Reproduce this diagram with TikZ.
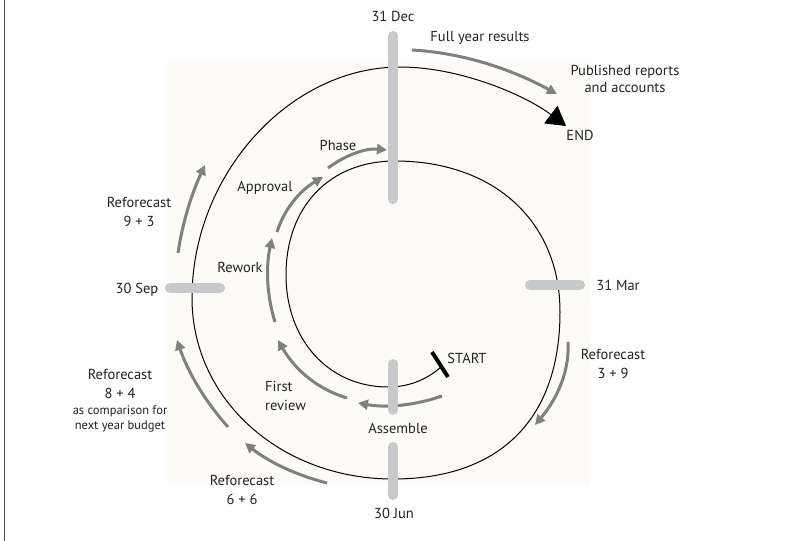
\documentclass[tikz,border=0pt]{standalone}
\usepackage{fontspec}
\setmainfont{PT Sans}
\usetikzlibrary{arrows.meta}
\definecolor{bgc}{RGB}{252,251,247}
\definecolor{arrg}{RGB}{128,128,128}
\definecolor{barg}{RGB}{200,201,203}
\definecolor{txt}{RGB}{34,34,34}
\begin{document}
\begin{tikzpicture}[x=1pt,y=-1pt,
  lbl/.style={text=txt,font=\fontsize{14.5}{19}\selectfont,align=center,inner sep=0pt},
  small/.style={text=txt,font=\fontsize{12.5}{15}\selectfont,align=center,inner sep=0pt},
  garrow/.style={draw=arrg,line width=3pt,-{Triangle[length=10pt,width=10pt]}},
  bar/.style={draw=barg,line width=10pt,line cap=round},
  spiral/.style={draw=black,line width=1pt}]
\useasboundingbox (0,0) rectangle (804,541);
\fill[white] (0,0) rectangle (804,541);
\fill[bgc] (167,62) rectangle (590,485);
\draw[black!70,line width=1.4pt] (4.7,0) -- (4.7,541);

% spiral
\coordinate (start) at (441,367);
\coordinate (end) at (566,126);
\draw[spiral,-{Triangle[length=19pt,width=22pt]}] (start)
  .. controls (425,381) and (407,387) .. (388,387)
  .. controls (328.8,387) and (286,340) .. (286,275)
  .. controls (286,206.6) and (329.6,161) .. (395,161)
  .. controls (494,161) and (560,221.4) .. (560,312)
  .. controls (560,419) and (500,479) .. (393,479)
  .. controls (280.4,479) and (192,399.4) .. (192,298)
  .. controls (192,175) and (289,67) .. (400,67)
  .. controls (460,67) and (525,95) .. (end);
\coordinate (tkA) at (432,352);
\coordinate (tkB) at (448,377);
\draw[black,line width=4pt] (tkA) -- (tkB);

% gray arrows
\coordinate (fyA) at (412,50);   \coordinate (fyB) at (557,94);
\coordinate (phA) at (328,168);  \coordinate (phB) at (387,150);
\coordinate (apA) at (277,232);  \coordinate (apB) at (323,177);
\coordinate (rwA) at (275,322);  \coordinate (rwB) at (272,238);
\coordinate (frA) at (347,398);  \coordinate (frB) at (278,340);
\coordinate (asA) at (442,396);  \coordinate (asB) at (358,403);
\coordinate (r93A) at (178,253); \coordinate (r93B) at (205,165);
\coordinate (r84A) at (228,427); \coordinate (r84B) at (177,340);
\coordinate (r66A) at (327,483); \coordinate (r66B) at (245,443);
\coordinate (r39A) at (568,342); \coordinate (r39B) at (535,425);
\draw[garrow] (fyA) .. controls (459.7,52.7) and (508,67.3) .. (fyB);
\draw[garrow] (phA) .. controls (347,154) and (366.7,148) .. (phB);
\draw[garrow] (apA) .. controls (284.3,209) and (299.7,190.7) .. (apB);
\draw[garrow] (rwA) .. controls (266.7,295.3) and (265.7,267.3) .. (rwB);
\draw[garrow] (frA) .. controls (318,389.3) and (295,370) .. (frB);
\draw[garrow] (asA) .. controls (414,405.7) and (386,408) .. (asB);
\draw[garrow] (r93A) .. controls (182.3,223.7) and (191.3,194.3) .. (r93B);
\draw[garrow] (r84A) .. controls (205,401.3) and (188,372.3) .. (r84B);
\draw[garrow] (r66A) .. controls (295.7,475) and (268.3,461.7) .. (r66B);
\draw[garrow] (r39A) .. controls (569.7,369) and (558.7,396.7) .. (r39B);

% bars
\draw[bar] (393,36) -- (393,199);
\draw[bar] (530,285) -- (580,285);
\draw[bar] (170,288) -- (220,288);
\draw[bar] (393,364) -- (393,410);
\draw[bar] (393,447) -- (393,495);

% labels
\node[lbl] (dec) at (393,16) {31 Dec};
\node[lbl] (fyr) at (480,38) {Full year results};
\node[lbl,font=\fontsize{14.5}{17}\selectfont] (pub) at (625,78.5) {Published reports\\and accounts};
\node[lbl] (endl) at (580,135) {END};
\node[lbl] (phase) at (338,145) {Phase};
\node[lbl] (appr) at (265,188) {Approval};
\node[lbl] (rew) at (240,267) {Rework};
\node[lbl] (rf93) at (139,211.5) {Reforecast\\9 + 3};
\node[lbl] (sep) at (137,290) {30 Sep};
\node[lbl] (mar) at (618,285) {31 Mar};
\node[lbl] (rf39) at (613,363.5) {Reforecast\\3 + 9};
\node[lbl] (startl) at (467,358) {START};
\node[lbl,align=left,anchor=west] (fr) at (265,395.5) {First\\review};
\node[lbl] (ass) at (398,428) {Assemble};
\node[lbl] (jun) at (394,513) {30 Jun};
\node[lbl] (rf84) at (120,383.5) {Reforecast\\8 + 4};
\node[small] (cmp) at (120,418.5) {as comparison for\\next year budget};
\node[lbl] (rf66) at (242,490) {Reforecast\\6 + 6};
\end{tikzpicture}
\end{document}
